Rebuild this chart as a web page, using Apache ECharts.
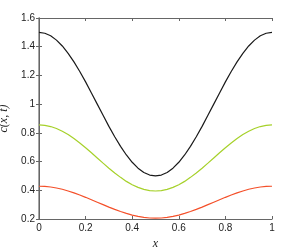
<!DOCTYPE html>
<html><head><meta charset="utf-8">
<script src="https://cdn.jsdelivr.net/npm/echarts@6/dist/echarts.min.js"></script>
<style>html,body{margin:0;padding:0;background:#fff}#c{width:300px;height:247px}</style>
</head><body><div id="c"></div>
<script>
const xs = [0,0.025,0.05,0.075,0.1,0.125,0.15,0.175,0.2,0.225,0.25,0.275,0.3,0.325,0.35,0.375,0.4,0.425,0.45,0.475,0.5,
            0.525,0.55,0.575,0.6,0.625,0.65,0.675,0.7,0.725,0.75,0.775,0.8,0.825,0.85,0.875,0.9,0.925,0.95,0.975,1];
const blackVals = [1.5,1.494,1.476,1.446,1.405,1.354,1.294,1.227,1.155,1.078,1.0,0.922,0.845,0.773,0.706,0.646,0.595,0.554,0.524,0.506,0.5,
                   0.506,0.524,0.554,0.595,0.646,0.706,0.773,0.845,0.922,1.0,1.078,1.155,1.227,1.294,1.354,1.405,1.446,1.476,1.494,1.5];
const greenVals = [0.855,0.852,0.844,0.830,0.811,0.788,0.760,0.729,0.696,0.661,0.625,0.589,0.554,0.521,0.490,0.462,0.439,0.420,0.406,0.398,0.395,
                   0.398,0.406,0.420,0.439,0.462,0.490,0.521,0.554,0.589,0.625,0.661,0.696,0.729,0.760,0.788,0.811,0.830,0.844,0.852,0.855];
const redVals = [0.428,0.427,0.423,0.416,0.407,0.395,0.382,0.367,0.351,0.334,0.317,0.300,0.283,0.267,0.252,0.239,0.227,0.218,0.211,0.207,0.206,
                 0.207,0.211,0.218,0.227,0.239,0.252,0.267,0.283,0.300,0.317,0.334,0.351,0.367,0.382,0.395,0.407,0.416,0.423,0.427,0.428];
const xTicks = [0,0.2,0.4,0.6,0.8,1];
const yTicks = [0.2,0.4,0.6,0.8,1,1.2,1.4,1.6];

const pair = v => xs.map((x,i)=>[x,v[i]]);
const axisCol = '#666';
const lbl = {color:'#222', fontSize:10, fontFamily:'Liberation Sans, Arial, sans-serif'};
const chart = echarts.init(document.getElementById('c'), null, {renderer:'canvas'});
chart.setOption({
  animation:false,
  grid:{left:39,right:28,top:18,bottom:28,containLabel:false,outerBoundsMode:'none'},
  xAxis:[
    {type:'value',min:0,max:1,interval:0.2,position:'bottom',
     name:'x',nameLocation:'middle',nameGap:15,
     nameTextStyle:{fontStyle:'italic',fontFamily:'Liberation Serif, serif',fontSize:12,color:'#222'},
     axisLine:{lineStyle:{color:axisCol,width:1}},
     axisTick:{inside:true,length:3,lineStyle:{color:axisCol}},
     axisLabel:{...lbl,margin:4,formatter:v=>String(+v.toFixed(1))},
     splitLine:{show:false}},
    {type:'value',min:0,max:1,interval:0.2,position:'top',
     axisLine:{lineStyle:{color:axisCol,width:1}},
     axisTick:{inside:true,length:3,lineStyle:{color:axisCol}},
     axisLabel:{show:false},splitLine:{show:false}}
  ],
  yAxis:[
    {type:'value',min:0.2,max:1.6,interval:0.2,position:'left',
     name:'c(x, t)',nameLocation:'middle',nameGap:26,nameRotate:90,
     nameTextStyle:{fontStyle:'italic',fontFamily:'Liberation Serif, serif',fontSize:12,color:'#222'},
     axisLine:{lineStyle:{color:'#888',width:1.5}},
     axisTick:{inside:true,length:3,lineStyle:{color:axisCol}},
     axisLabel:{...lbl,margin:4,formatter:v=>String(+v.toFixed(1))},
     splitLine:{show:false}},
    {type:'value',min:0.2,max:1.6,interval:0.2,position:'right',
     axisLine:{lineStyle:{color:axisCol,width:1}},
     axisTick:{inside:true,length:3,lineStyle:{color:axisCol}},
     axisLabel:{show:false},splitLine:{show:false}}
  ],
  series:[
    {type:'line',data:pair(blackVals),smooth:false,showSymbol:false,lineStyle:{color:'#1a1a1a',width:1.2}},
    {type:'line',data:pair(greenVals),smooth:false,showSymbol:false,lineStyle:{color:'#a6d12a',width:1.2}},
    {type:'line',data:pair(redVals),smooth:false,showSymbol:false,lineStyle:{color:'#f4502a',width:1.2}}
  ]
});
</script></body></html>
